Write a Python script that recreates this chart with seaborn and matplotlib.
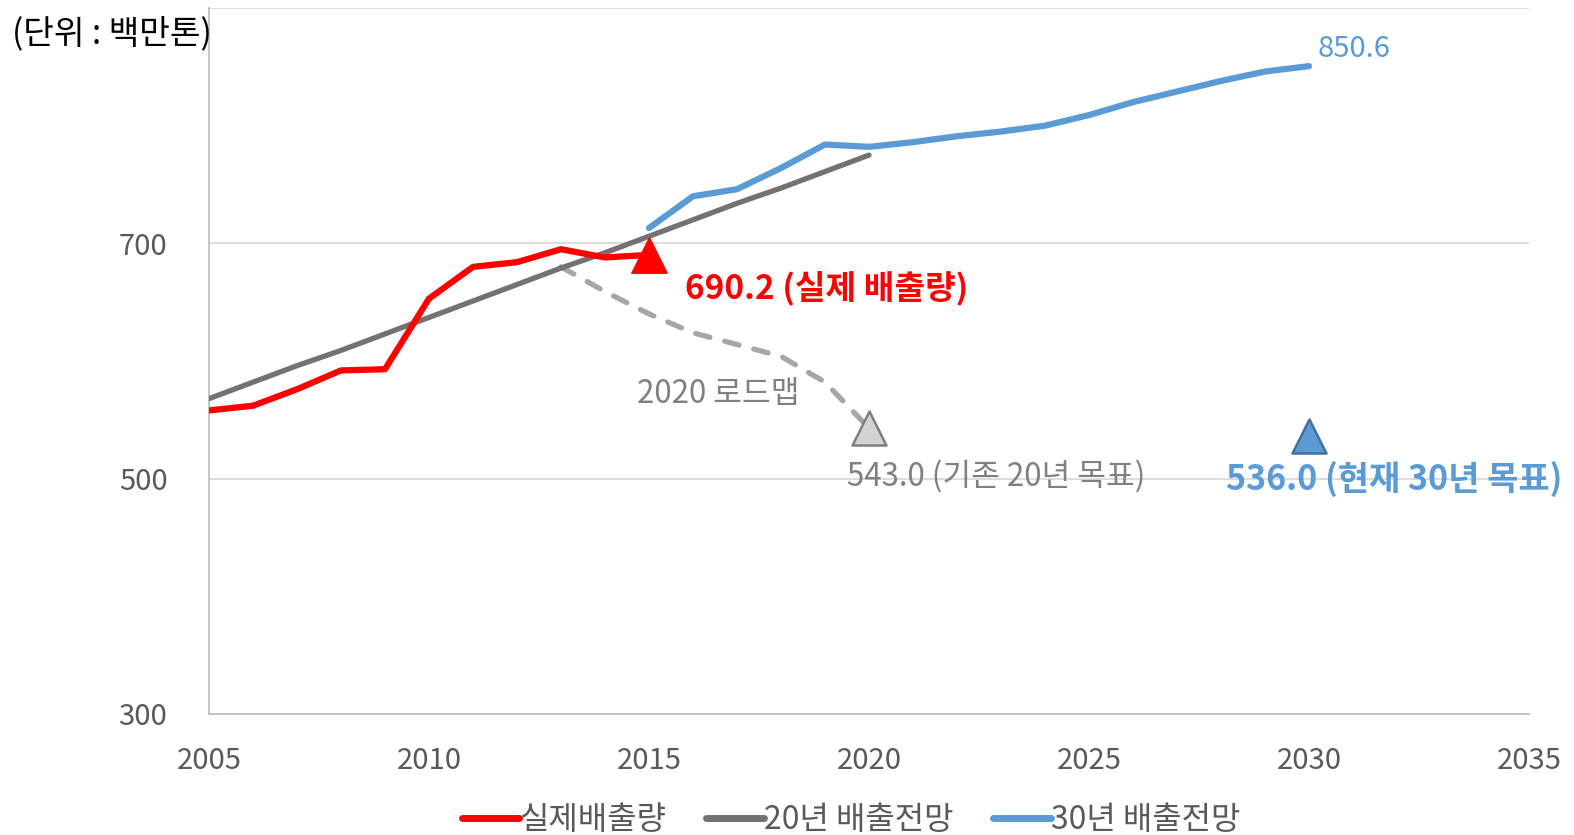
import matplotlib
matplotlib.use("Agg")
import matplotlib.pyplot as plt
import seaborn as sns
import pandas as pd
from matplotlib.lines import Line2D

# ---- data ----
actual_years = [2005, 2006, 2007, 2008, 2009, 2010, 2011, 2012, 2013, 2014, 2015]
actual_vals = [558, 562, 576, 592, 593, 653, 680, 684, 695, 688, 690.2]

bau20_years = list(range(2005, 2021))
bau20_vals = [568, 582, 596, 609, 623, 637, 651, 665, 679, 692, 706, 720, 734, 747, 761, 775]

bau30_years = list(range(2015, 2031))
bau30_vals = [713, 740, 746, 764, 784, 782, 786, 791, 795, 800, 809, 820, 829, 838, 846, 850.6]

road_years = [2013, 2014, 2015, 2016, 2017, 2018, 2019, 2020]
road_vals = [680, 659, 640, 624, 614, 604, 582, 543]

target20 = (2020, 543.0)
target30 = (2030, 536.0)
actual_last = (2015, 690.2)

series_labels = ["실제배출량", "20년 배출전망", "30년 배출전망"]
unit_label = "(단위 : 백만톤)"
x_ticks = [2005, 2010, 2015, 2020, 2025, 2030, 2035]
y_ticks = [300, 500, 700, 900]

# ---- style ----
sns.set_theme(style="white")
plt.rcParams["font.family"] = ["Noto Sans CJK KR", "DejaVu Sans"]

RED = "#FF0000"
DGRAY = "#767171"
BLUE = "#5B9BD5"
LGRAY = "#A6A6A6"
TXT = "#595959"

fig = plt.figure(figsize=(15.74, 8.35), dpi=100)
ax = fig.add_axes([209 / 1574, 1 - 714 / 835, (1529 - 209) / 1574, (714 - 8) / 835])

df_act = pd.DataFrame({"year": actual_years, "v": actual_vals})
df_20 = pd.DataFrame({"year": bau20_years, "v": bau20_vals})
df_30 = pd.DataFrame({"year": bau30_years, "v": bau30_vals})
df_rd = pd.DataFrame({"year": road_years, "v": road_vals})

sns.lineplot(data=df_rd, x="year", y="v", ax=ax, color=LGRAY, lw=3.8,
             linestyle=(0, (2.8, 2.9)), dash_capstyle="round", zorder=2)
sns.lineplot(data=df_20, x="year", y="v", ax=ax, color=DGRAY, lw=3.8,
             solid_capstyle="round", zorder=3)
sns.lineplot(data=df_act, x="year", y="v", ax=ax, color=RED, lw=4.5,
             solid_capstyle="round", zorder=4)
sns.lineplot(data=df_30, x="year", y="v", ax=ax, color=BLUE, lw=4.5,
             solid_capstyle="round", zorder=4)

# markers
ax.scatter([actual_last[0]], [actual_last[1]], marker="^", s=650, color=RED,
           edgecolors=RED, zorder=6)
ax.scatter([target20[0]], [target20[1]], marker="^", s=600, color="#D3D3D3",
           edgecolors="#7F7F7F", linewidths=1.8, zorder=6)
ax.scatter([target30[0]], [target30[1]], marker="^", s=600, color=BLUE,
           edgecolors="#41719C", linewidths=1.8, zorder=6)

# annotations
ax.annotate(f"{actual_last[1]:.1f} (실제 배출량)", xy=actual_last, xytext=(26, -24),
            textcoords="offset points", color=RED, fontsize=24, fontweight="bold",
            ha="left", va="center")
ax.annotate("2020 로드맵", xy=(2016, 604), xytext=(-40, -27), textcoords="offset points",
            color="#808080", fontsize=22.5, ha="left", va="center")
ax.annotate(f"{target20[1]:.1f} (기존 20년 목표)", xy=target20, xytext=(-16, -35),
            textcoords="offset points", color="#808080", fontsize=22.5, ha="left", va="center")
ax.annotate(f"{target30[1]:.1f} (현재 30년 목표)", xy=target30, xytext=(-60, -31),
            textcoords="offset points", color=BLUE, fontsize=24.5, fontweight="bold",
            ha="left", va="center")
ax.annotate(f"{bau30_vals[-1]:.1f}", xy=(bau30_years[-1], bau30_vals[-1]), xytext=(6.5, 12),
            textcoords="offset points", color=BLUE, fontsize=21, ha="left", va="center")

# axes
ax.set_xlim(2005, 2035)
ax.set_ylim(300, 900)
ax.set_xticks(x_ticks)
ax.set_yticks(y_ticks)
ax.set_yticklabels([str(t) if t != 900 else "" for t in y_ticks])
ax.set_xlabel("")
ax.set_ylabel("")
ax.tick_params(axis="both", length=0, labelsize=21, colors=TXT)
ax.tick_params(axis="x", pad=23)
ax.tick_params(axis="y", pad=30)
ax.grid(axis="y", color="#D9D9D9", lw=1.3)
ax.grid(axis="x", visible=False)
for s in ["top", "right"]:
    ax.spines[s].set_visible(False)
for s in ["left", "bottom"]:
    ax.spines[s].set_color("#BFBFBF")
    ax.spines[s].set_linewidth(1.3)

fig.text(12 / 1574, 1 - 34 / 835, unit_label, fontsize=24, color="#000000",
         ha="left", va="center")

handles = [Line2D([], [], color=c, lw=5, solid_capstyle="round") for c in [RED, DGRAY, BLUE]]
fig.legend(handles, series_labels, loc="center", bbox_to_anchor=(851 / 1574, 1 - 820 / 835),
           ncol=3, frameon=False, fontsize=23, labelcolor=TXT, handlelength=1.8,
           handletextpad=0.0, columnspacing=1.25)

fig.savefig("out.png", dpi=100)
